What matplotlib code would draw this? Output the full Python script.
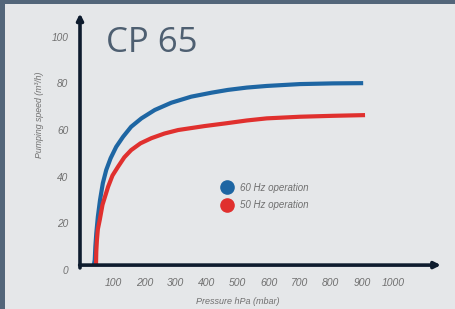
import matplotlib
matplotlib.use('Agg')
import matplotlib.pyplot as plt
from matplotlib.lines import Line2D
from matplotlib.patches import Rectangle

# pressure (hPa) vs pumping speed (m3/h)
p_60 = [38, 41, 43, 46, 51, 58, 67, 78, 92, 110, 132, 158, 191, 234, 287, 351, 416, 469,
        530, 594, 701, 807, 904]
s_60 = [2, 4.3, 10, 15.7, 22.8, 30, 37.2, 42.9, 47.9, 52.8, 57.1, 61.4, 65.0, 68.6, 71.7,
        74.3, 76.0, 77.2, 78.2, 78.9, 79.7, 80.0, 80.1]
p_50 = [45, 46, 48, 51, 57, 66, 84, 98, 116, 136, 158, 188, 223, 265, 309, 394, 464, 530,
        594, 701, 807, 910]
s_50 = [2, 8, 12.9, 17.5, 21.4, 28, 35.7, 40.5, 44.3, 48.3, 51.4, 54.3, 56.5, 58.5, 60.0,
        61.7, 62.9, 64.1, 65.0, 65.7, 66.1, 66.4]

x_ticks = [100, 200, 300, 400, 500, 600, 700, 800, 900, 1000]
y_ticks = [0, 20, 40, 60, 80, 100]

W, H = 456, 309
border = '#53667a'
panel = '#e5e7e9'
axis_col = '#0e1c2e'
txt_col = '#707070'
blue = '#1e66a3'
red = '#e0302e'

fig = plt.figure(figsize=(W / 100, H / 100), dpi=100)
fig.patch.set_facecolor(border)
fig.add_artist(Rectangle((5 / W, 0), 1, (H - 4) / H, transform=fig.transFigure,
                         facecolor=panel, edgecolor='none', zorder=0))

ax = fig.add_axes([80 / W, 39 / H, 362.8 / W, 256.6 / H])
ax.set_facecolor('none')
ax.set_xlim(-6.4, 1160)
ax.set_ylim(0, 110)
for s in ax.spines.values():
    s.set_visible(False)

ax.plot(p_60, s_60, color=blue, lw=3, solid_capstyle='butt', solid_joinstyle='round')
ax.plot(p_50, s_50, color=red, lw=3, solid_capstyle='butt', solid_joinstyle='round')

arrow = dict(arrowstyle='-|>', lw=2.6, color=axis_col, mutation_scale=9, shrinkA=0, shrinkB=0)
ax.annotate('', xy=(-6.4, 110), xytext=(-6.4, 0.9), arrowprops=arrow, annotation_clip=False)
ax.annotate('', xy=(1154, 2.1), xytext=(-7.5, 2.1), arrowprops=arrow, annotation_clip=False)

lab = dict(family='Liberation Sans', style='italic', color=txt_col)
ax.set_xticks(x_ticks)
ax.set_xticklabels([str(v) for v in x_ticks], fontsize=7.5, **lab)
ax.set_yticks(y_ticks)
ax.set_yticklabels([str(v) for v in y_ticks], fontsize=7.3, **lab)
ax.tick_params(axis='x', length=0, pad=6)
ax.tick_params(axis='y', length=0, pad=8.5)

fig.text(40 / W, 1 - 115 / H, 'Pumping speed (m³/h)', rotation=90, ha='center', va='center',
         fontsize=6.3, **lab)
fig.text(238 / W, 1 - 302 / H, 'Pressure hPa (mbar)', ha='center', va='center',
         fontsize=6.5, **lab)

fig.text(106 / W, 1 - 52 / H, 'CP 65', family='Open Sans', fontsize=25, color='#4e5f71',
         va='baseline', ha='left')

handles = [Line2D([], [], ls='', marker='o', markersize=9.5, color=blue),
           Line2D([], [], ls='', marker='o', markersize=9.5, color=red)]
leg = ax.legend(handles, ['60 Hz operation', '50 Hz operation'], loc='upper left',
                bbox_to_anchor=(217 / W, 1 - 178 / H), bbox_transform=fig.transFigure,
                frameon=False, borderpad=0, handlelength=1.0, handletextpad=0.85,
                labelspacing=0.75, prop=dict(family='Liberation Sans', style='italic', size=7))
for t in leg.get_texts():
    t.set_color(txt_col)

fig.savefig('out.png', dpi=100, facecolor=fig.get_facecolor())
